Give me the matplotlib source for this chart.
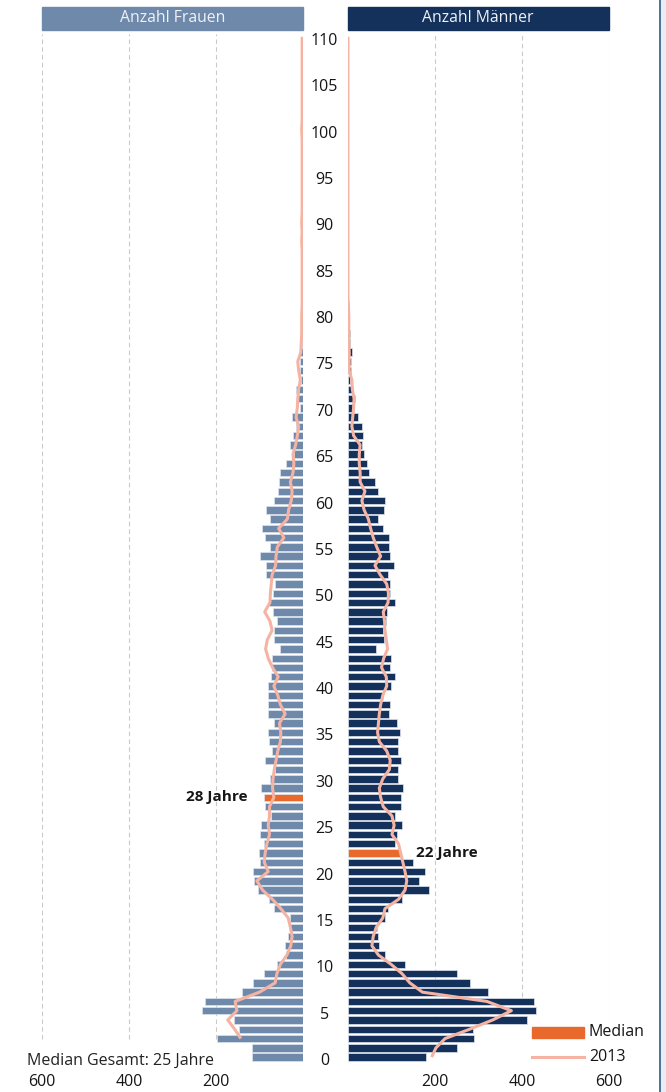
import numpy as np
import matplotlib.pyplot as plt
from matplotlib.patches import Rectangle
from matplotlib.lines import Line2D
import matplotlib.transforms as mtransforms

plt.rcParams['font.family'] = ['Open Sans', 'DejaVu Sans']

# bars: ages 0..83
frauen = [117, 117, 197, 148, 158, 233, 225, 140, 115, 89,
          60, 39, 42, 35, 31, 29, 66, 79, 103, 113,
          114, 100, 102, 89, 99, 96, 74, 87, 90, 97,
          75, 65, 87, 72, 79, 80, 67, 81, 80, 80,
          81, 74, 72, 71, 52, 66, 67, 59, 69, 79,
          69, 65, 86, 85, 99, 75, 87, 95, 76, 86,
          67, 58, 56, 53, 38, 20, 29, 23, 16, 25,
          7, 12, 16, 4, 6, 7, 7, 3, 4, 3,
          3, 4, 2, 2]
maenner = [181, 251, 290, 289, 413, 433, 427, 322, 282, 252,
           132, 85, 72, 69, 67, 85, 94, 126, 188, 164,
           177, 151, 121, 110, 113, 126, 108, 123, 123, 128,
           116, 115, 122, 115, 115, 121, 113, 95, 98, 82,
           99, 109, 98, 99, 66, 83, 82, 88, 91, 108,
           98, 98, 92, 107, 98, 95, 96, 81, 69, 84,
           86, 71, 63, 49, 44, 38, 33, 36, 34, 25,
           12, 17, 13, 6, 9, 9, 10, 6, 5, 4,
           4, 4, 2, 0]

# 2013 line: women from age 2, men from age 0, up to 110
frauen_2013 = [143, 157, 173, 152, 156, 100, 64, 60,
               52, 37, 28, 25, 29, 34, 51, 70, 93, 106,
               80, 89, 87, 83, 77, 80, 77, 77, 67, 70,
               69, 66, 62, 58, 52, 51, 54, 41, 52, 58,
               67, 57, 70, 80, 86, 82, 71, 76, 88, 76,
               75, 73, 71, 63, 62, 59, 44, 56, 36, 33,
               27, 25, 29, 23, 21, 23, 17, 13, 10, 16,
               13, 12, 10, 6, 10, 12, 5, 4, 3, 3,
               3, 2, 2, 2, 2, 2, 2, 2, 3, 2,
               3, 2, 2, 2, 2, 2, 2, 2, 2, 2,
               3, 2, 2, 2, 2, 2, 2, 2, 2, 2, 2]
maenner_2013 = [193, 203, 224, 280, 333, 376, 320, 172, 143, 125,
                100, 71, 56, 59, 66, 81, 86, 117, 132, 136,
                132, 127, 122, 117, 102, 107, 102, 82, 76, 73,
                81, 96, 98, 90, 73, 69, 71, 73, 76, 81,
                90, 89, 78, 83, 92, 89, 86, 85, 82, 93,
                94, 90, 75, 63, 76, 67, 59, 53, 48, 38,
                33, 40, 29, 29, 27, 27, 29, 14, 10, 12,
                14, 15, 11, 10, 4, 4, 4, 3, 3, 3,
                3, 2, 1, 1, 1, 1, 1, 1, 1, 1,
                1, 1, 1, 1, 1, 1, 1, 1, 1, 1,
                1, 1, 1, 1, 1, 1, 1, 1, 1, 1, 1]

median_frauen = 28
median_maenner = 22
median_gesamt = 25
age_ticks = list(range(0, 111, 5))
x_ticks = [200, 400, 600]

c_frauen = '#6f89ab'
c_maenner = '#13315a'
c_median = '#e8692b'
c_line = '#f5b4a3'
c_grid = '#c9c9c9'
c_text = '#151515'

W, H = 666, 1092
fig = plt.figure(figsize=(W / 100, H / 100), dpi=100)

ylim = (-0.8, 110.3)
y_top_px, y_bot_px = 34, 1064.5
ax_b = 1 - y_bot_px / H
ax_h = (y_bot_px - y_top_px) / H
ax_l = fig.add_axes([42 / W, ax_b, 261 / W, ax_h])
ax_r = fig.add_axes([347.5 / W, ax_b, 261.5 / W, ax_h])

for ax, vals, line_vals, line_start, col, med, gy in [
        (ax_l, frauen, frauen_2013, 2, c_frauen, median_frauen, 2),
        (ax_r, maenner, maenner_2013, 0, c_maenner, median_maenner, 4)]:
    ages = np.arange(len(vals))
    colors = [c_median if a == med else col for a in ages]
    ax.vlines(x_ticks, gy, ylim[1], colors=c_grid, linestyles=(0, (4, 3)),
              linewidth=0.8, zorder=0)
    ax.barh(ages, vals, height=0.8, color=colors, edgecolor='#dde4ec',
            linewidth=0.5, zorder=2)
    la = np.arange(line_start, line_start + len(line_vals))
    ax.plot(line_vals, la, color=c_line, lw=2.2, zorder=3,
            solid_joinstyle='round', solid_capstyle='butt')
    ax.set_ylim(*ylim)
    ax.set_yticks([])
    ax.set_xticks(x_ticks)
    ax.set_xticklabels([str(t) for t in x_ticks], fontsize=11.5, color=c_text)
    ax.tick_params(axis='x', length=0, pad=7)
    for s in ax.spines.values():
        s.set_visible(False)

ax_l.set_xlim(600, 0)
ax_r.set_xlim(0, 600)

# age labels in the middle, a few pixels below the bar centres
tr = mtransforms.blended_transform_factory(fig.transFigure, ax_r.transData)
tr = tr + mtransforms.ScaledTranslation(0, -4 / 100, fig.dpi_scale_trans)
for a in age_ticks:
    fig.text(324.5 / W, a, str(a), transform=tr, ha='center', va='center',
             fontsize=11.5, color=c_text)

# median labels
ax_l.text(frauen[median_frauen] + 37, median_frauen, f'{median_frauen} Jahre',
          ha='right', va='center', fontsize=11, fontweight='bold', color=c_text)
ax_r.text(maenner[median_maenner] + 37, median_maenner, f'{median_maenner} Jahre',
          ha='left', va='center', fontsize=11, fontweight='bold', color=c_text)

# header boxes
for x0, w, col, txt in [(42, 261, c_frauen, 'Anzahl Frauen'),
                        (347.5, 261.5, c_maenner, 'Anzahl Männer')]:
    fig.patches.append(Rectangle((x0 / W, 1 - 29.5 / H), w / W, 22.5 / H,
                                 transform=fig.transFigure, color=col, zorder=1))
    fig.text((x0 + w / 2) / W, 1 - 18.5 / H, txt, ha='center', va='center',
             fontsize=11.3, color='#eef2f6')

# legend
fig.patches.append(Rectangle((532 / W, 1 - 1037.5 / H), 52 / W, 10.5 / H,
                             transform=fig.transFigure, color=c_median))
fig.add_artist(Line2D([532 / W, 584 / W], [1 - 1057 / H, 1 - 1057 / H],
                      transform=fig.transFigure, color=c_line, lw=2.2))
fig.text(589 / W, 1 - 1032 / H, 'Median', ha='left', va='center',
         fontsize=11.5, color=c_text)
fig.text(589 / W, 1 - 1057 / H, '2013', ha='left', va='center',
         fontsize=11.5, color=c_text)

fig.text(27 / W, 1 - 1061 / H, f'Median Gesamt: {median_gesamt} Jahre',
         ha='left', va='center', fontsize=11.5, color='#222222')

# right frame edge
fig.patches.append(Rectangle((661 / W, 0), 5 / W, 1, transform=fig.transFigure,
                             color='#e9edf1'))
fig.add_artist(Line2D([660 / W, 660 / W], [0, 1], transform=fig.transFigure,
                      color='#2d5d8c', lw=1.2))

fig.savefig('out.png', dpi=100)
